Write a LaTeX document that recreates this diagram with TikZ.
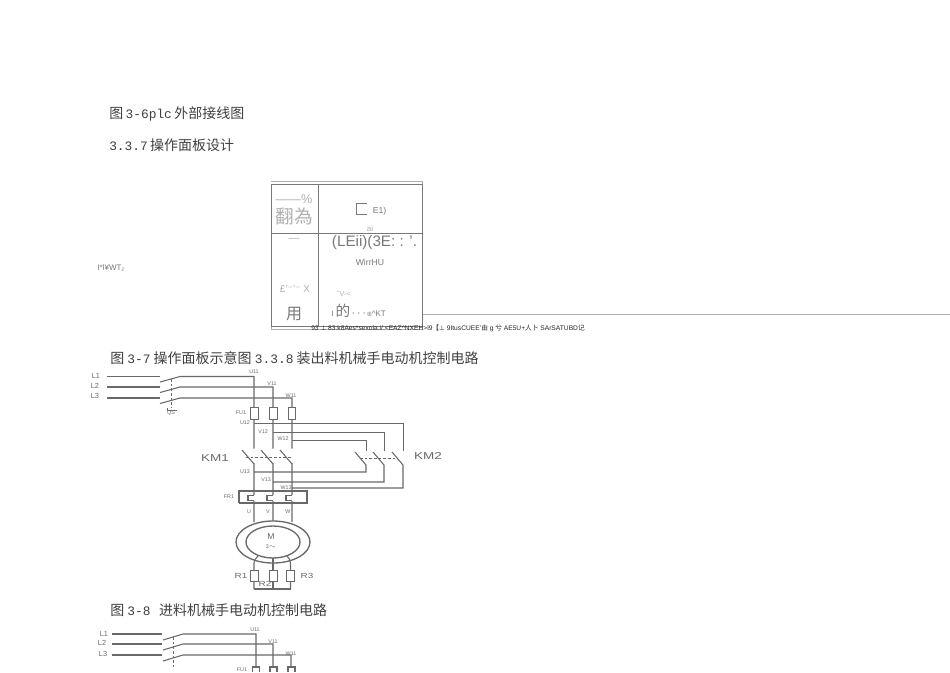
\documentclass[tikz,border=0pt]{standalone}
\usepackage{fontspec}
\setmainfont{Liberation Sans}
\newfontfamily\cjk{Noto Sans CJK SC}
\newfontfamily\latmono[Scale=0.92]{Liberation Mono}
\newfontfamily\symfont{DejaVu Sans}
\newfontfamily\widefont[FakeStretch=1.35]{Liberation Sans}
\usetikzlibrary{positioning, calc}
\definecolor{wiregray}{RGB}{105, 105, 105}
\definecolor{panelgray}{RGB}{120, 120, 120}
\definecolor{fadegray}{RGB}{175, 175, 175}
\newcommand{\lm}[1]{{\latmono #1}}
\newcommand{\sym}[1]{{\symfont #1}}

\begin{document}
\begin{tikzpicture}[x=0.75pt, y=-0.75pt,
    caption/.style={anchor=west, inner sep=0pt, text=black!75, font=\fontsize{10.5}{12}\selectfont\cjk},
    wire/.style={draw=wiregray, line width=0.8pt},
    thinwire/.style={draw=wiregray, line width=0.65pt},
    link/.style={draw=wiregray, line width=0.6pt, dashed, dash pattern=on 2pt off 1.5pt},
    fusebox/.style={draw=wiregray, line width=0.8pt, fill=white, minimum width=5.5pt, minimum height=8.5pt, inner sep=0pt},
    tag/.style={inner sep=0pt, text=wiregray, font=\fontsize{4}{5}\selectfont},
    biglabel/.style={inner sep=0pt, text=wiregray, font=\fontsize{7.5}{9}\selectfont\widefont},
    paneltext/.style={inner sep=0pt, text=panelgray},
    fadetext/.style={inner sep=0pt, text=fadegray}]
  \useasboundingbox (0,0) rectangle (950,672);

  \node[caption] (capA) at (109,114) {图\,\lm{3-6plc}\,外部接线图};
  \node[caption] (capB) at (109,145) {\lm{3.3.7}\,操作面板设计};
  \node[caption] (capC) at (110,358) {图 \lm{3-7} 操作面板示意图 \lm{3.3.8} 装出料机械手电动机控制电路};
  \node[caption] (capD) at (110,610) {图 \lm{3-8} \ \,进料机械手电动机控制电路};

  \draw[draw=fadegray, line width=0.5pt] (422,314.5) -- (950,314.5);
  \draw[draw=fadegray, line width=0.6pt] (271,181) -- (422.5,181) (271,329.5) -- (422.5,329.5) (271,326) -- (271,329.5) (422.5,181) -- (422.5,184.5);
  \draw[draw=panelgray, line width=0.75pt] (271.5,184.5) rectangle (422.5,326);
  \draw[draw=panelgray, line width=0.75pt] (318,184.5) -- (318,326) (271.5,233.5) -- (422.5,233.5);
  \draw[draw=panelgray, line width=0.6pt] (367,203.5) -- (356,203.5) -- (356,214.5) -- (367,214.5);

  \node[paneltext] (sideTag) at (111,268) {\fontsize{6}{7}\selectfont I*l¥WT₂};
  \node[fadetext, font=\fontsize{9.5}{11}\selectfont] (panelPct) at (294,199) {——\%};
  \node[fadetext, font=\fontsize{14}{16}\selectfont\cjk] (panelTitle) at (294.5,216) {翻為};
  \node[paneltext, font=\fontsize{6.5}{8}\selectfont] (panelE) at (379.5,211) {E1)};
  \node[fadetext, font=\fontsize{6}{7}\selectfont] (panelAi) at (370,229) {ai};
  \node[fadetext, font=\fontsize{8}{9}\selectfont] (panelDash) at (294,240) {—};
  \node[paneltext, font=\fontsize{11.4}{13}\selectfont] (panelLe) at (374.5,243) {(LEii)(3E: : '.};
  \node[paneltext, font=\fontsize{6.5}{8}\selectfont] (panelWin) at (370,262) {WirrHU};
  \node[fadetext, font=\fontsize{7.5}{9}\selectfont] (panelX) at (295,289) {£'\sym{⁻}'\sym{⁻} X};
  \node[fadetext, font=\fontsize{5.5}{7}\selectfont] (panelV) at (344,294) {˜V-<};
  \node[paneltext, font=\fontsize{12}{14}\selectfont\cjk] (panelUse) at (294,314) {用};
  \node[paneltext, anchor=west, font=\fontsize{6}{7}\selectfont] (panelKt) at (331,311) {I {\fontsize{11}{12}\selectfont\cjk 的}\,{\fontsize{9}{10}\selectfont$\cdots$}\,{\fontsize{4.5}{5}\selectfont tll}\textasciicircum KT};
  \node[anchor=west, inner sep=0pt, text=black!85, font=\fontsize{5}{6}\selectfont] (panelNote) at (311,328) {93 \sym{⊥} 83.k8Aes*sexola.i/.<EAZ\textasciicircum NXEH>l9{\cjk 【}\sym{⊥} 9ItusCUEE'{\cjk 由} g {\cjk 兮} AE5U+{\cjk 人卜} SArSATUBD{\cjk 记}};

  \draw[wire] (107,376.5) -- (160,376.5) (107,387) -- (160,387) (107,398) -- (160,398);
  \draw[wire] (160,382) -- (180,376.5) -- (254,376.5) -- (254,522);
  \draw[wire] (160,392.5) -- (180,387) -- (273,387) -- (273,522);
  \draw[wire] (160,403.5) -- (180,398) -- (292,398) -- (292,522);
  \draw[link] (171.5,379) -- (171.5,408);
  \draw[thinwire] (167,408) -- (167,410) -- (177,410);
  \node[tag] (lineA) at (96,376) {\fontsize{5.5}{6}\selectfont L1};
  \node[tag] (lineB) at (95,386) {\fontsize{5.5}{6}\selectfont L2};
  \node[tag] (lineC) at (95,396) {\fontsize{5.5}{6}\selectfont L3};
  \node[tag] (swTag) at (171,413) {QS};
  \node[tag] (tagUa) at (254,372) {U11};
  \node[tag] (tagVa) at (272,384) {V11};
  \node[tag] (tagWa) at (291,395.5) {W11};

  \node[fusebox] (fuseU) at (254.5,413.5) {};
  \node[fusebox] (fuseV) at (273.5,413.5) {};
  \node[fusebox] (fuseW) at (292,413.5) {};
  \node[tag] (tagFu) at (241,413) {FU1};
  \node[tag] (tagUb) at (245,423) {U12};
  \node[tag] (tagVb) at (263,432) {V12};
  \node[tag] (tagWb) at (283,438.5) {W12};

  \fill[white] (255,448.5) rectangle (253,463) (274,448.5) rectangle (272,463) (293,448.5) rectangle (291,463);
  \draw[thinwire] (254,423) -- (403,423) -- (403,451);
  \draw[thinwire] (273,432) -- (384,432) -- (384,451);
  \draw[thinwire] (292,440) -- (366,440) -- (366,451);
  \draw[wire] (242,450) -- (254,464) (261,450) -- (273,464) (280,450) -- (292,464);
  \draw[wire] (355,452) -- (366,465) -- (366,472) -- (254,472);
  \draw[wire] (373,452) -- (384,465) -- (384,482) -- (273,482);
  \draw[wire] (392,452) -- (403,465) -- (403,488) -- (292,488);
  \draw[link] (246,457) -- (292,457) (360,458) -- (398,458);
  \node[biglabel] (labKmA) at (215,458) {KM1};
  \node[biglabel] (labKmB) at (428,456) {KM2};
  \node[tag] (tagUc) at (245,472) {U13};
  \node[tag] (tagVc) at (266,480) {V13};
  \node[tag] (tagWc) at (286,487.5) {W13};

  \draw[wire] (239,503) -- (239,491) -- (307,491) -- (307,503) -- (239,503);
  \fill[white] (247.5,495) rectangle (255,501) (266.5,495) rectangle (274,501) (285.5,495) rectangle (293,501);
  \draw[wire] (254,495.5) -- (248,495.5) -- (248,500.5) -- (254,500.5) (273,495.5) -- (267,495.5) -- (267,500.5) -- (273,500.5) (292,495.5) -- (286,495.5) -- (286,500.5) -- (292,500.5);
  \node[tag] (tagFr) at (229,497) {FR1};
  \node[tag] (tagU) at (249,512) {U};
  \node[tag] (tagV) at (268,512) {V};
  \node[tag] (tagW) at (288,512) {W};

  \draw[wire, line width=1pt, fill=white] (273,542) ellipse [x radius=37, y radius=21];
  \draw[wire, line width=1pt, fill=white] (273,542) ellipse [x radius=27, y radius=16];
  \node[tag, font=\fontsize{6.5}{7}\selectfont] (motorM) at (271,537) {M};
  \node[tag, font=\fontsize{4}{4}\selectfont] (motorT) at (271,547) {3$\sim$};

  \draw[wire] (258,556) to[out=230, in=90] (254,563) -- (254,589);
  \draw[wire] (273,558) -- (273,589);
  \draw[wire] (287,556) to[out=310, in=90] (290.5,563) -- (290.5,589);
  \draw[wire] (254,589) -- (290.5,589);
  \node[fusebox] (resA) at (254.5,576) {};
  \node[fusebox] (resB) at (273.5,576) {};
  \node[fusebox] (resC) at (290.5,576) {};
  \node[biglabel] (labRa) at (241,576) {\fontsize{5.5}{6}\selectfont R1};
  \node[biglabel] (labRb) at (265,584) {\fontsize{5.5}{6}\selectfont R2};
  \node[biglabel] (labRc) at (307,576) {\fontsize{5.5}{6}\selectfont R3};

  \draw[wire] (112,634) -- (162,634) (112,644) -- (162,644) (112,655) -- (162,655);
  \draw[wire] (163,640) -- (183,634) -- (256,634) -- (256,667);
  \draw[wire] (163,650) -- (183,644) -- (273,644) -- (273,667);
  \draw[wire] (163,661) -- (183,655) -- (291,655) -- (291,667);
  \draw[link] (173,637) -- (173,667);
  \draw[wire] (252.5,672) -- (252.5,667) -- (259.5,667) -- (259.5,672);
  \draw[wire] (270,672) -- (270,667) -- (277,667) -- (277,672);
  \draw[wire] (288,672) -- (288,667) -- (295,667) -- (295,672);
  \node[tag] (lineAb) at (104,634) {\fontsize{5.5}{6}\selectfont L1};
  \node[tag] (lineBb) at (102,643) {\fontsize{5.5}{6}\selectfont L2};
  \node[tag] (lineCb) at (103,654) {\fontsize{5.5}{6}\selectfont L3};
  \node[tag] (tagUd) at (255,630) {U11};
  \node[tag] (tagVd) at (273,642) {V11};
  \node[tag] (tagWd) at (291,653.5) {W11};
  \node[tag] (tagFub) at (242,669.5) {FU1};
\end{tikzpicture}
\end{document}
